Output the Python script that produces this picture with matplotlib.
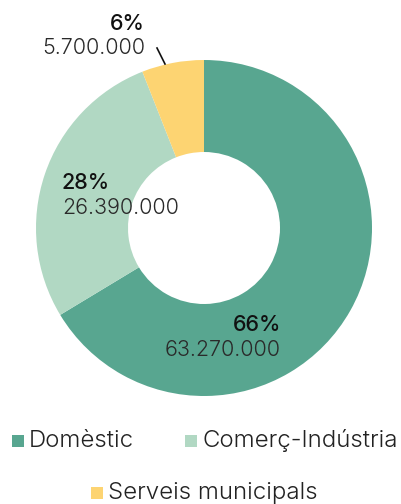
import matplotlib
matplotlib.use("Agg")
import matplotlib.pyplot as plt
from matplotlib.patches import Rectangle

categories = ["Domèstic", "Comerç-Indústria", "Serveis municipals"]
values = [63270000, 26390000, 5700000]
colors = ["#58a690", "#b1d8c3", "#fdd472"]

plt.rcParams['font.family'] = ['Inter', 'DejaVu Sans']

W, H = 402, 504
fig = plt.figure(figsize=(W/100, H/100), dpi=100)
cx, cy, r = 204, 228, 168
ax = fig.add_axes([(cx - r)/W, 1 - (cy + r)/H, 2*r/W, 2*r/H])
ax.pie(values, colors=colors, startangle=90, counterclock=False,
       wedgeprops=dict(width=(168-76)/168, edgecolor='none'), radius=1)
ax.set_xlim(-1, 1); ax.set_ylim(-1, 1)
ax.set_aspect('equal')
ax.axis('off')

total = sum(values)
def fmt(v):
    return f"{v:,}".replace(",", ".")

def px(x, y):
    return x / W, 1 - y / H

FS = 15.5
LFS = 17.3
pct = [round(v / total * 100) for v in values]
kw_b = dict(fontsize=FS, fontweight=500, color='#111111', va='center')
kw_n = dict(fontsize=FS, fontweight=300, color='#2a2a2a', va='center')
fig.text(*px(281, 325), f"{pct[0]}%", ha='right', **kw_b)
fig.text(*px(281, 350), fmt(values[0]), ha='right', **kw_n)
fig.text(*px(62, 183), f"{pct[1]}%", ha='left', **kw_b)
fig.text(*px(62, 208), fmt(values[1]), ha='left', **kw_n)
fig.text(*px(145, 24), f"{pct[2]}%", ha='right', **kw_b)
fig.text(*px(145, 48), fmt(values[2]), ha='right', **kw_n)
fig.add_artist(plt.Line2D([157/W, 165/W], [1-48/H, 1-64/H], color='#111111', lw=1.2))

# legend: square x, text x, y (pixels)
leg_pos = [(12, 29, 441), (185, 202, 441), (91, 108, 493)]
for cat, col, (sx, tx, ly) in zip(categories, colors, leg_pos):
    fig.add_artist(Rectangle(px(sx, ly + 6), 12/W, 12/H, facecolor=col, edgecolor='none',
                             transform=fig.transFigure))
    fig.text(*px(tx, ly), cat, ha='left', va='center', fontsize=LFS, fontweight=300, color='#222222')

fig.savefig("out.png", dpi=100)
